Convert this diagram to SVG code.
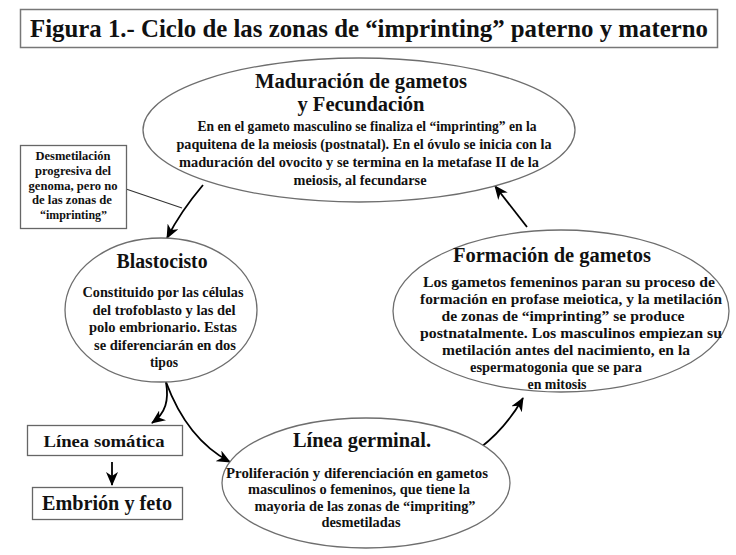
<svg xmlns="http://www.w3.org/2000/svg" width="736" height="555" viewBox="0 0 736 555">
<defs>
<style>
text{font-family:"Liberation Serif","Times New Roman",serif;font-weight:bold;fill:#111;text-anchor:middle}
.h{font-size:20px}
.b{font-size:14px}
.s{font-size:11.5px}
.ell{fill:#fff;stroke:#6e6e6e;stroke-width:1.3}
.box{fill:#fff;stroke:#666;stroke-width:1.3}
.con{fill:none;stroke:#000;stroke-width:1.8}
</style>
<marker id="arr" markerUnits="userSpaceOnUse" markerWidth="14" markerHeight="12" viewBox="0 0 14 12" refX="13" refY="6" orient="auto">
<path d="M0,0 L14,6 L0,12 L4,6 z" fill="#000"/>
</marker>
</defs>
<rect width="736" height="555" fill="#fff"/>

<g id="title">
<rect x="20.5" y="9.5" width="697" height="38" fill="#fff" stroke="#777" stroke-width="1.5"/>
<text x="369" y="37" style="font-size:26px" textLength="678" lengthAdjust="spacingAndGlyphs">Figura 1.- Ciclo de las zonas de “imprinting” paterno y materno</text>
</g>

<g id="connectors">
<path class="con" d="M126,189 L182,208" style="stroke-width:1.1;stroke:#333"/>
<path class="con" d="M203,185 Q181,211 167,238" marker-end="url(#arr)"/>
<path class="con" d="M166,382 C169,400 166,413 152,423" marker-end="url(#arr)"/>
<path class="con" d="M166,382 C180,420 200,446 230,462" marker-end="url(#arr)"/>
<path class="con" d="M480,448 Q506,428 523,398" marker-end="url(#arr)"/>
<path class="con" d="M527,227 L495,186" marker-end="url(#arr)"/>
<path class="con" d="M112,462 L112,485" marker-end="url(#arr)"/>
</g>

<g id="maduracion">
<ellipse class="ell" cx="359" cy="130" rx="216" ry="72"/>
<text class="h" x="361" y="88" textLength="212" lengthAdjust="spacingAndGlyphs">Maduración de gametos</text>
<text class="h" x="361" y="111" textLength="127" lengthAdjust="spacingAndGlyphs">y Fecundación</text>
<text class="b" x="367" y="131" textLength="339" lengthAdjust="spacingAndGlyphs">En en el gameto masculino se finaliza el “imprinting” en la</text>
<text class="b" x="364" y="149" textLength="375" lengthAdjust="spacingAndGlyphs">paquitena de la meiosis (postnatal). En el óvulo se inicia con la</text>
<text class="b" x="359" y="167" textLength="360" lengthAdjust="spacingAndGlyphs">maduración del ovocito y se termina en la metafase II  de la</text>
<text class="b" x="360" y="185" textLength="133" lengthAdjust="spacingAndGlyphs">meiosis, al fecundarse</text>
</g>

<g id="desmetilacion">
<rect class="box" x="20.5" y="145.5" width="106" height="83"/>
<text class="s" x="73" y="160" textLength="75" lengthAdjust="spacingAndGlyphs">Desmetilación</text>
<text class="s" x="73" y="175" textLength="76" lengthAdjust="spacingAndGlyphs">progresiva del</text>
<text class="s" x="73" y="190" textLength="89" lengthAdjust="spacingAndGlyphs">genoma, pero no</text>
<text class="s" x="72" y="204" textLength="80" lengthAdjust="spacingAndGlyphs">de las zonas de</text>
<text class="s" x="73.5" y="219" textLength="67" lengthAdjust="spacingAndGlyphs">“imprinting”</text>
</g>

<g id="blastocisto">
<ellipse class="ell" cx="161" cy="310" rx="96" ry="72"/>
<text class="h" x="162" y="268" textLength="91" lengthAdjust="spacingAndGlyphs">Blastocisto</text>
<text class="b" x="163" y="297" textLength="161" lengthAdjust="spacingAndGlyphs">Constituido por las células</text>
<text class="b" x="164" y="315" textLength="143" lengthAdjust="spacingAndGlyphs">del trofoblasto y las del</text>
<text class="b" x="163" y="332" textLength="148" lengthAdjust="spacingAndGlyphs">polo embrionario. Estas</text>
<text class="b" x="165" y="350" textLength="142" lengthAdjust="spacingAndGlyphs">se diferenciarán en dos</text>
<text class="b" x="164" y="367" textLength="28" lengthAdjust="spacingAndGlyphs">tipos</text>
</g>

<g id="formacion">
<ellipse class="ell" cx="561" cy="311" rx="168" ry="81"/>
<text class="h" x="552" y="262" textLength="198" lengthAdjust="spacingAndGlyphs">Formación de gametos</text>
<text class="b" x="569" y="287" textLength="292" lengthAdjust="spacingAndGlyphs">Los gametos femeninos paran su proceso de</text>
<text class="b" x="571" y="304" textLength="302" lengthAdjust="spacingAndGlyphs">formación en profase meiotica, y la metilación</text>
<text class="b" x="563" y="321" textLength="243" lengthAdjust="spacingAndGlyphs">de zonas de “imprinting” se produce</text>
<text class="b" x="571" y="338" textLength="302" lengthAdjust="spacingAndGlyphs">postnatalmente. Los masculinos empiezan su</text>
<text class="b" x="566" y="355" textLength="248" lengthAdjust="spacingAndGlyphs">metilación antes del nacimiento, en la</text>
<text class="b" x="556" y="372" textLength="172" lengthAdjust="spacingAndGlyphs">espermatogonia que se para</text>
<text class="b" x="557" y="389" textLength="59" lengthAdjust="spacingAndGlyphs">en mitosis</text>
</g>

<g id="germinal">
<ellipse class="ell" cx="366" cy="483" rx="144" ry="65"/>
<text class="h" x="362" y="447" textLength="138" lengthAdjust="spacingAndGlyphs">Línea germinal.</text>
<text class="b" x="357" y="478" textLength="262" lengthAdjust="spacingAndGlyphs">Proliferación y diferenciación en gametos</text>
<text class="b" x="359" y="494" textLength="222" lengthAdjust="spacingAndGlyphs">masculinos  o femeninos, que tiene la</text>
<text class="b" x="365" y="511" textLength="221" lengthAdjust="spacingAndGlyphs">mayoria de las zonas de “impriting”</text>
<text class="b" x="361" y="527" textLength="79" lengthAdjust="spacingAndGlyphs">desmetiladas</text>
</g>

<g id="somatica">
<rect class="box" x="27.5" y="425.5" width="155" height="30"/>
<text x="104" y="447" style="font-size:17px" textLength="121" lengthAdjust="spacingAndGlyphs">Línea somática</text>
</g>

<g id="embrion">
<rect class="box" x="32.5" y="487.5" width="150" height="32"/>
<text x="107" y="510" style="font-size:20px" textLength="130" lengthAdjust="spacingAndGlyphs">Embrión y feto</text>
</g>
</svg>
